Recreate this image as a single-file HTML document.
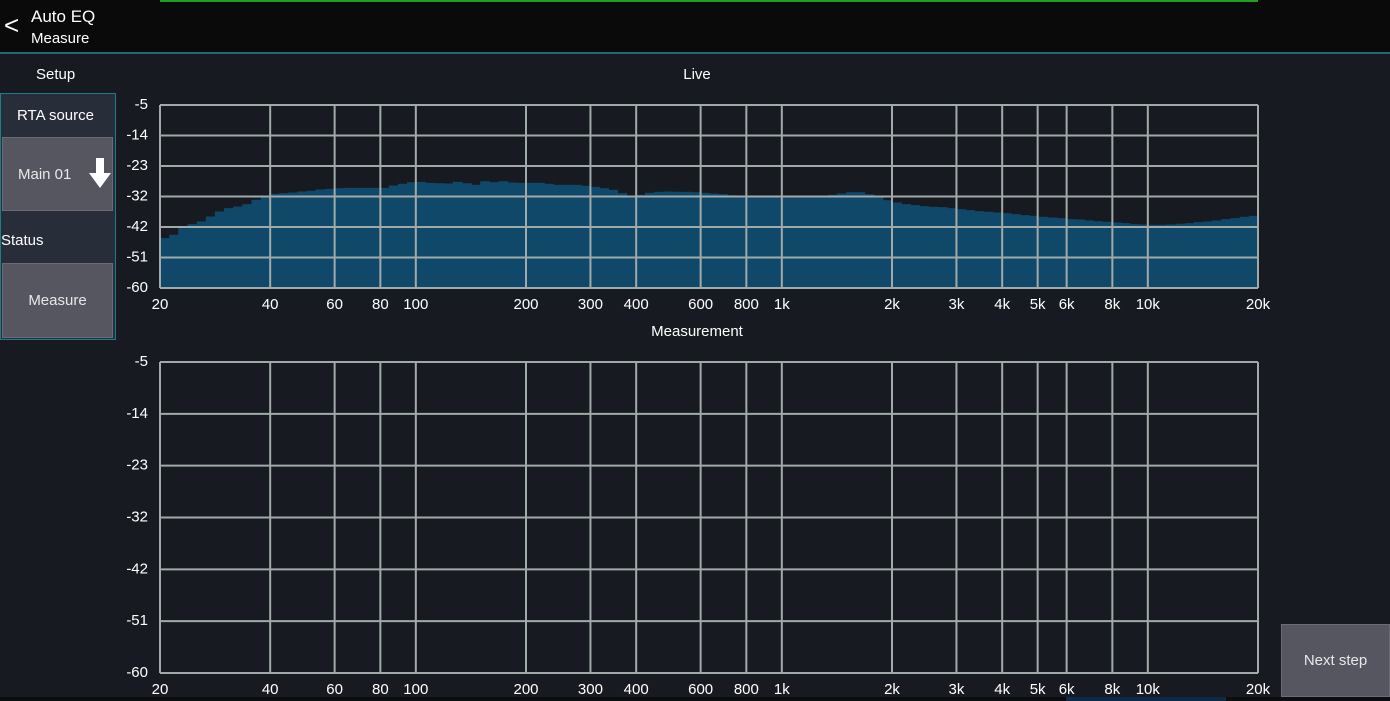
<!DOCTYPE html>
<html><head><meta charset="utf-8"><style>
body{margin:0;width:1390px;height:701px;background:#171b21;font-family:"Liberation Sans",sans-serif;color:#fff;overflow:hidden;position:relative}
.abs{position:absolute}
.btn{position:absolute;background:#555660;border:1px solid #6a6b74;color:#e8e8ea;font-size:15px;display:flex;align-items:center;justify-content:center;box-sizing:border-box}
</style></head><body>
<div class="abs" style="left:0;top:0;width:1390px;height:52px;background:#0a0a0a;border-bottom:2px solid #1d6a72"></div>
<div class="abs" style="left:160px;top:0;width:1098px;height:2px;background:#1ea01e"></div>
<div class="abs" style="left:4px;top:10px;font-size:26px;line-height:30px">&lt;</div>
<div class="abs" style="left:31px;top:7px;font-size:17px">Auto EQ</div>
<div class="abs" style="left:31px;top:30px;font-size:15px">Measure</div>
<div class="abs" style="left:36px;top:66px;font-size:15px">Setup</div>
<div class="abs" style="left:0;top:93px;width:116px;height:247px;background:#272d39;border:1px solid #1f7c86;box-sizing:border-box"></div>
<div class="abs" style="left:17px;top:107px;font-size:15px">RTA source</div>
<div class="btn" style="left:2px;top:137px;width:111px;height:74px;justify-content:flex-start;padding-left:15px">Main 01<svg style="position:absolute;left:86px;top:20px" width="22" height="30"><path d="M7 0h8v15h7L11 30 0 15h7z" fill="#fff"/></svg></div>
<div class="abs" style="left:1px;top:232px;font-size:15px">Status</div>
<div class="btn" style="left:2px;top:263px;width:111px;height:75px">Measure</div>
<div class="btn" style="left:1281px;top:624px;width:109px;height:73px">Next step</div>
<div class="abs" style="left:0;top:697px;width:1390px;height:4px;background:#0b0d10"></div>
<div class="abs" style="left:1066px;top:697px;width:160px;height:4px;background:#0d2a4a"></div>
<svg id="chart" class="abs" style="left:0;top:0" width="1390" height="701"></svg>
<script>
const yTicks=[-5,-14,-23,-32,-42,-51,-60];
const xTicks=[20,40,60,80,100,200,300,400,600,800,1000,2000,3000,4000,5000,6000,8000,10000,20000];
const xTickLabels=["20","40","60","80","100","200","300","400","600","800","1k","2k","3k","4k","5k","6k","8k","10k","20k"];
const liveLevels=[-45.0,-44.0,-42.0,-40.8,-40.0,-38.5,-37.0,-36.0,-35.5,-34.8,-33.5,-32.5,-31.7,-31.5,-31.3,-31.0,-30.8,-30.4,-30.2,-30.0,
-29.9,-29.9,-29.9,-29.9,-29.9,-29.2,-28.7,-28.2,-28.1,-28.4,-28.5,-28.6,-28.1,-28.5,-29.0,-27.9,-28.2,-27.9,-28.3,-28.4,
-28.4,-28.4,-28.7,-29.0,-29.0,-29.0,-29.3,-29.6,-30.0,-30.5,-31.5,-32.3,-32.0,-31.4,-31.1,-31.0,-31.1,-31.1,-31.2,-31.4,
-31.6,-31.8,-32.1,-32.3,-32.3,-32.4,-32.4,-32.5,-32.6,-32.6,-32.6,-32.5,-32.3,-32.0,-31.6,-31.2,-31.2,-31.8,-32.8,-33.6,
-34.3,-34.8,-35.1,-35.4,-35.6,-35.7,-36.0,-36.3,-36.6,-36.9,-37.1,-37.3,-37.5,-37.8,-38.1,-38.3,-38.6,-38.8,-39.0,-39.3,
-39.4,-39.7,-39.9,-40.1,-40.3,-40.5,-40.8,-40.9,-41.0,-41.0,-40.9,-40.7,-40.5,-40.2,-40.0,-39.7,-39.3,-39.0,-38.6,-38.3];
const measLevels=[];
const NS='http://www.w3.org/2000/svg';
const svg=document.getElementById('chart');
const X0=160,X1=1258,FMIN=20,FMAX=20000;
function xs(f){return X0+(Math.log10(f/FMIN)/Math.log10(FMAX/FMIN))*(X1-X0);}
function mk(t,a){const e=document.createElementNS(NS,t);for(const k in a)e.setAttribute(k,a[k]);svg.appendChild(e);return e;}
function drawChart(top,bot,title,tname,levels,pfx){
  const ys=v=>top+(yTicks[0]-v)/(yTicks[0]-yTicks[yTicks.length-1])*(bot-top);
  const yi=i=>top+i/(yTicks.length-1)*(bot-top);
  let t=mk('text',{x:697,y:top-26,fill:'#fff','font-size':15,'text-anchor':'middle','font-family':'Liberation Sans'});t.textContent=title;
  
  
  const n=levels.length;
  levels.forEach((v,i)=>{
    const f0=FMIN*Math.pow(FMAX/FMIN,i/n),f1=FMIN*Math.pow(FMAX/FMIN,(i+1)/n);
    const r=mk('rect',{x:xs(f0),y:ys(v),width:xs(f1)-xs(f0)+0.6,height:bot-ys(v),fill:'#10486a'});
    
    
  });
  yTicks.forEach((v,i)=>{
    const l=mk('line',{x1:X0,x2:X1,y1:yi(i),y2:yi(i),stroke:'#a0aaa8','stroke-width':2});
    
    
    const tx=mk('text',{x:148,y:yi(i)+4,fill:'#fff','font-size':15,'text-anchor':'end','font-family':'Liberation Sans'});tx.textContent=v;
    
    
  });
  xTicks.forEach((f,i)=>{
    const l=mk('line',{x1:xs(f),x2:xs(f),y1:top,y2:bot,stroke:'#a0aaa8','stroke-width':2});
    
    
    const tx=mk('text',{x:xs(f),y:bot+21,fill:'#fff','font-size':15,'text-anchor':'middle','font-family':'Liberation Sans'});tx.textContent=xTickLabels[i];
    
    
  });
}
drawChart(105,288,'Live','live-title',liveLevels,'live');
drawChart(362,673,'Measurement','measurement-title',measLevels,'measurement');
</script>
</body></html>
